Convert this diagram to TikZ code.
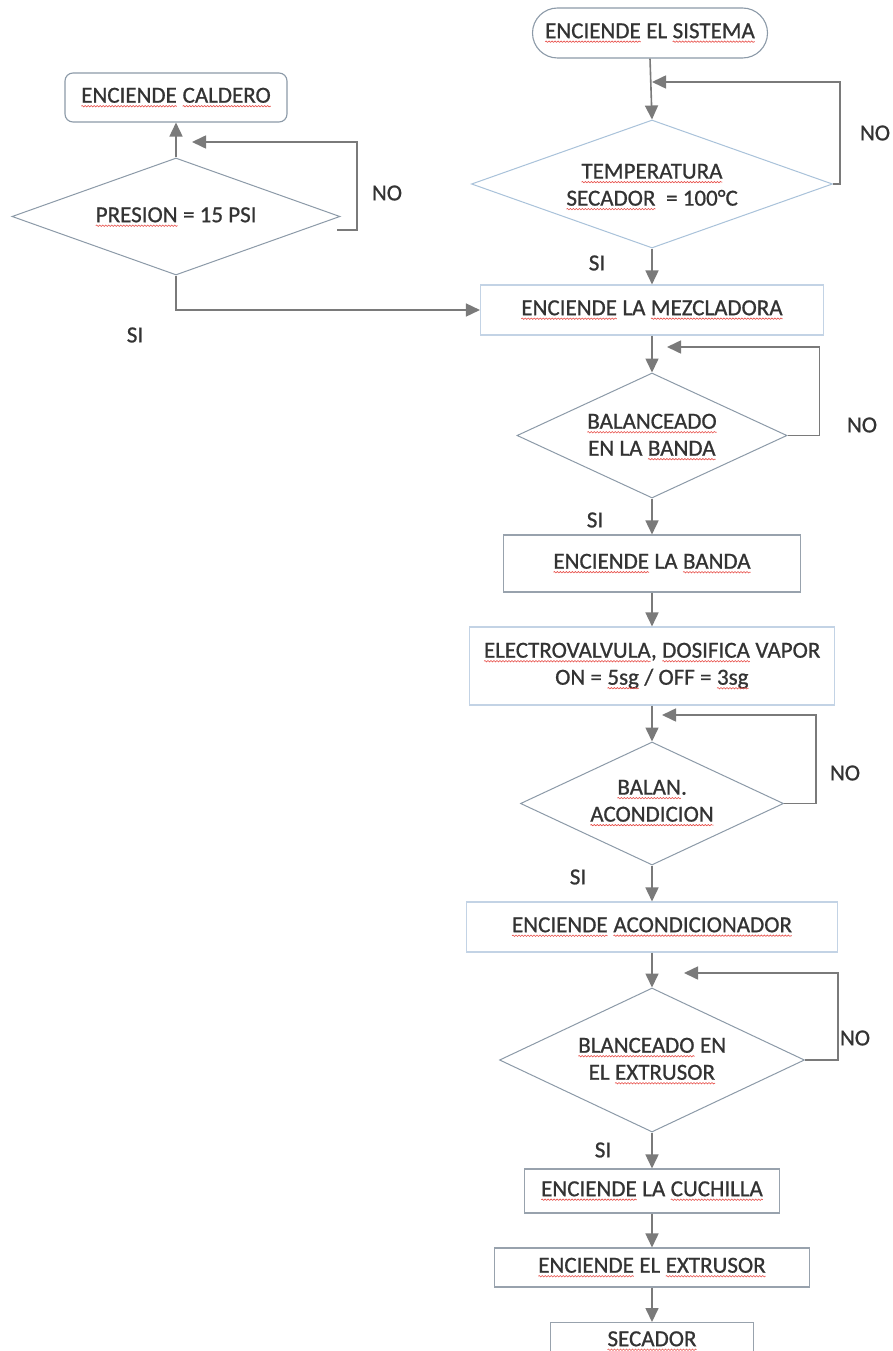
\documentclass[tikz,border=0pt]{standalone}
\usepackage{fontspec}
\setmainfont{Carlito}[FakeBold=0.8]
\usetikzlibrary{shapes.geometric,arrows.meta,calc,decorations.pathmorphing}

\definecolor{ink}{HTML}{333333}
\definecolor{arrowgray}{HTML}{7A7A7A}
\definecolor{boxblue}{HTML}{C3D3E5}
\definecolor{boxgray}{HTML}{98A2AD}
\definecolor{diablue}{HTML}{A9C2DA}
\definecolor{diagray}{HTML}{8C9AA8}
\definecolor{squig}{HTML}{E8504A}

\tikzset{
  plainword/.style={shape=rectangle, draw=none, fill=none, rounded corners=0pt,
    minimum width=0pt, minimum height=0pt, inner sep=0pt, outer sep=0pt,
    text=ink, align=center},
  wavy/.style={draw=squig, line width=0.6pt, sharp corners, decorate,
    decoration={snake, amplitude=0.7pt, segment length=3pt}},
  txt/.style={font=\fontsize{23}{27}\selectfont, text=ink, align=center, inner sep=0pt},
  procbox/.style={txt, draw=#1, line width=1.1pt, rectangle, inner sep=0pt},
  decbox/.style={draw=#1, line width=1pt, diamond, inner sep=0pt},
  flow/.style={draw=arrowgray, line width=1.6pt, -{Triangle[length=14pt,width=13pt]}},
  lbl/.style={txt}
}

% red wavy underline for flagged words
\newcommand\sqw[1]{\tikz[baseline=(w.base)]{%
  \node[plainword] (w) {#1};
  \draw[wavy] ([yshift=-3.5pt]w.base west) -- ([yshift=-3.5pt]w.base east);}}

\begin{document}
\begin{tikzpicture}[x=1pt,y=-1pt]
\useasboundingbox (0,0) rectangle (893,1351);
\fill[white] (0,0) rectangle (893,1351);
\clip (0,0) rectangle (893,1351);

% ---- main column ----
\node[procbox=diagray, rounded corners=25pt, minimum width=235pt, minimum height=50pt] (start) at (650,33)
  {\sqw{ENCIENDE} EL \sqw{SISTEMA}};

\node[decbox=diablue, minimum width=361pt, minimum height=128pt] (d1) at (652,184) {};
\node[txt] (d1t) at (652,187) {\sqw{TEMPERATURA}\\\sqw{SECADOR}\ \ = 100°C};

\node[procbox=boxblue, minimum width=343pt, minimum height=50pt] (mez) at (652,310)
  {\sqw{ENCIENDE} LA \sqw{MEZCLADORA}};

\node[decbox=diagray, minimum width=270pt, minimum height=125pt] (d2) at (652,435.5) {};
\node[txt] (d2t) at (652,437) {\sqw{BALANCEADO}\\EN LA \sqw{BANDA}};

\node[procbox=boxgray, minimum width=297pt, minimum height=57pt] (banda) at (652,563.5)
  {\sqw{ENCIENDE} LA \sqw{BANDA}};

\node[procbox=boxblue, minimum width=365pt, minimum height=78pt] (elec) at (652,666)
  {\sqw{ELECTROVALVULA}, \sqw{DOSIFICA} VAPOR\\ON = \sqw{5sg} / OFF = \sqw{3sg}};

\node[decbox=diagray, minimum width=263pt, minimum height=123pt] (d3) at (652,803.5) {};
\node[txt] (d3t) at (652,803) {\sqw{BALAN}.\\\sqw{ACONDICION}};

\node[procbox=boxblue, minimum width=371pt, minimum height=50pt] (acond) at (652,927)
  {\sqw{ENCIENDE} \sqw{ACONDICIONADOR}};

\node[decbox=diagray, minimum width=305pt, minimum height=144pt] (d4) at (652,1060) {};
\node[txt] (d4t) at (652,1061) {\sqw{BLANCEADO} EN\\EL \sqw{EXTRUSOR}};

\node[procbox=boxgray, minimum width=255pt, minimum height=44pt] (cuch) at (652,1191)
  {\sqw{ENCIENDE} LA \sqw{CUCHILLA}};

\node[procbox=boxgray, minimum width=315pt, minimum height=39pt] (extr) at (652,1267.5)
  {\sqw{ENCIENDE} EL \sqw{EXTRUSOR}};

\node[procbox=boxgray, minimum width=203pt, minimum height=60pt, anchor=north] (sec) at (652,1322) {};
\node[txt] (sect) at (652,1341) {\sqw{SECADOR}};

% ---- boiler branch ----
\node[procbox=diagray, rounded corners=8pt, minimum width=222pt, minimum height=49pt] (cald) at (176,97.5)
  {\sqw{ENCIENDE} \sqw{CALDERO}};
\node[decbox=diagray, minimum width=328pt, minimum height=117pt] (d0) at (176,216.5) {};
\node[txt] (d0t) at (176,217) {\sqw{PRESION} = 15 PSI};

% ---- loop end points ----
\coordinate (n1) at (652,82);
\coordinate (n2) at (667,347);
\coordinate (n3) at (662,715);
\coordinate (n4) at (684,973);
\coordinate (l0s) at (337,230);
\coordinate (l0e) at (192,142);

% ---- main flow ----
\draw[flow] (start.south) -- (d1.north);
\draw[flow] (d1.south) -- (mez.north);
\draw[flow] (mez.south) -- (d2.north);
\draw[flow] (d2.south) -- (banda.north);
\draw[flow] (banda.south) -- (elec.north);
\draw[flow] (elec.south) -- (d3.north);
\draw[flow] (d3.south) -- (acond.north);
\draw[flow] (acond.south) -- (d4.north);
\draw[flow] (d4.south) -- (cuch.north);
\draw[flow] (cuch.south) -- (extr.north);
\draw[flow] (extr.south) -- (sec.north);

% ---- NO loops ----
\draw[flow] (d1.east) -- ++(7,0) |- (n1);
\draw[flow] (d2.east) -- ++(32,0) |- (n2);
\draw[flow] (d3.east) -- ++(32,0) |- (n3);
\draw[flow] (d4.east) -- ++(33,0) |- (n4);

% ---- boiler flow ----
\draw[flow] (d0.north) -- (cald.south);
\draw[flow] (l0s) -- ++(20,0) |- (l0e);
\draw[flow] (d0.south) |- (mez.west);

% ---- branch labels ----
\node[lbl] (no1) at (875,133) {NO};
\node[lbl] (no0) at (387,193) {NO};
\node[lbl] (no2) at (862,425) {NO};
\node[lbl] (no3) at (845,773) {NO};
\node[lbl] (no4) at (855,1038) {NO};
\node[lbl] (si1) at (597,263) {SI};
\node[lbl] (si0) at (135,335) {SI};
\node[lbl] (si2) at (595,520) {SI};
\node[lbl] (si3) at (578,877) {SI};
\node[lbl] (si4) at (603,1150) {SI};
\end{tikzpicture}
\end{document}
